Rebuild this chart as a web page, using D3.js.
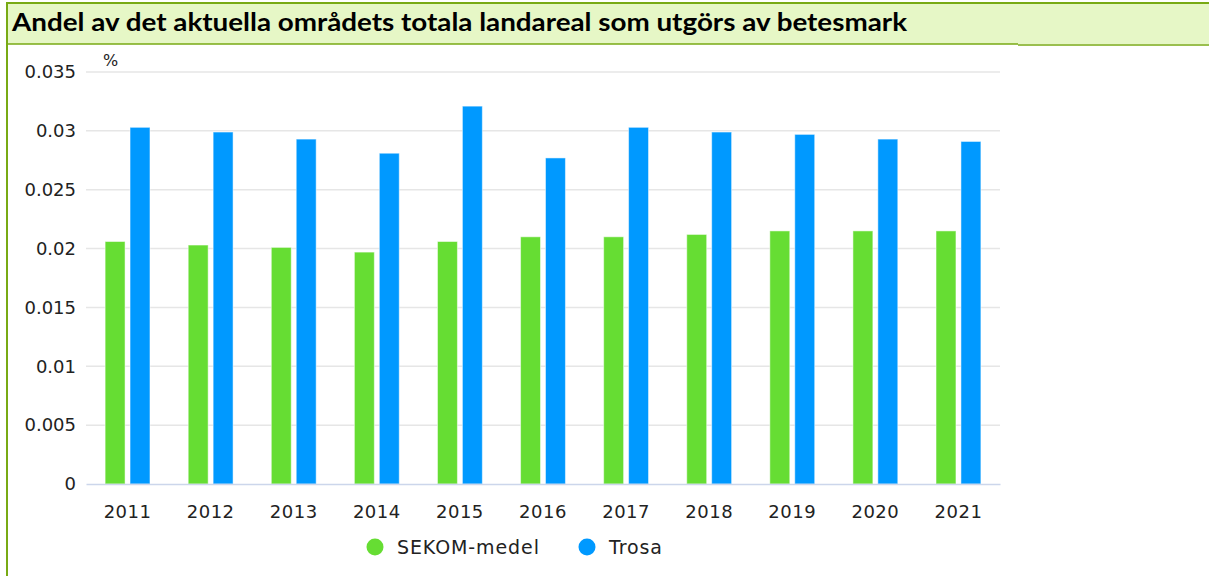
<!DOCTYPE html>
<html>
<head>
<meta charset="utf-8">
<script src="https://cdn.jsdelivr.net/npm/d3@7"></script>
<style>
	body { margin: 0; background: #fff; }
	svg { display: block; }
</style>
</head>
<body>
<svg width="1209" height="576"></svg>
<script>
const title = "Andel av det aktuella områdets totala landareal som utgörs av betesmark";
const years = ["2011", "2012", "2013", "2014", "2015", "2016", "2017", "2018", "2019", "2020", "2021"];
const seriesNames = ["SEKOM-medel", "Trosa"];
const sekomValues = [0.0206, 0.0203, 0.0201, 0.0197, 0.0206, 0.0210, 0.0210, 0.0212, 0.0215, 0.0215, 0.0215];
const trosaValues = [0.0303, 0.0299, 0.0293, 0.0281, 0.0321, 0.0277, 0.0303, 0.0299, 0.0297, 0.0293, 0.0291];
const yTicks = [0, 0.005, 0.01, 0.015, 0.02, 0.025, 0.03, 0.035];
const yTickLabels = ["0", "0.005", "0.01", "0.015", "0.02", "0.025", "0.03", "0.035"];
const unitLabel = "%";

const colors = { "SEKOM-medel": "#66dd33", "Trosa": "#0099ff" };

function draw_chart() {
	let svg = d3.select("svg");

	// title band
	svg.append("rect")
		.attr("x", 7).attr("y", 3).attr("width", 1210).attr("height", 41)
		.attr("fill", "#e6f7c6");
	svg.append("line")
		.attr("x1", 7).attr("x2", 1209).attr("y1", 3).attr("y2", 3)
		.attr("stroke", "#78aa14").attr("stroke-width", 2);
	svg.append("line")
		.attr("x1", 7).attr("x2", 1018).attr("y1", 44).attr("y2", 44)
		.attr("stroke", "#78aa14").attr("stroke-width", 1.5);
	svg.append("line")
		.attr("x1", 1018).attr("x2", 1209).attr("y1", 45).attr("y2", 45)
		.attr("stroke", "#78aa14").attr("stroke-width", 1.5);
	svg.append("line")
		.attr("x1", 7).attr("x2", 7).attr("y1", 2).attr("y2", 576)
		.attr("stroke", "#78aa14").attr("stroke-width", 2);

	svg.append("text")
		.attr("x", 12).attr("y", 31)
		.attr("font-family", "Lato, 'Open Sans', sans-serif")
		.attr("font-weight", "bold")
		.attr("font-size", 24)
		.attr("textLength", 895)
		.attr("lengthAdjust", "spacingAndGlyphs")
		.attr("fill", "#000")
		.text(title);

	let left = 86, right = 1000, top = 72, bottom = 484;

	let x0 = d3.scaleBand().domain(years).range([left, right]).padding(0);
	let x1 = d3.scaleBand().domain(seriesNames)
		.range([0.2 * x0.bandwidth(), 0.8 * x0.bandwidth()])
		.paddingInner(0.2).paddingOuter(0.1);
	let y = d3.scaleLinear().domain([0, 0.035]).range([bottom, top]);

	let g = svg.append("g");

	// gridlines
	g.selectAll(".grid")
		.data(yTicks.slice(1))
		.enter()
		.append("line")
		.attr("class", "grid")
		.attr("x1", left).attr("x2", right)
		.attr("y1", d => y(d)).attr("y2", d => y(d))
		.attr("stroke", "#e6e6e6").attr("stroke-width", 1.5);

	// y axis labels
	let yAxis = d3.axisLeft(y).tickValues(yTicks)
		.tickFormat((d, i) => yTickLabels[i]).tickSize(0).tickPadding(10);
	let ya = g.append("g").attr("transform", `translate(${left},0)`).call(yAxis);
	ya.select(".domain").remove();
	ya.selectAll("text")
		.attr("font-family", "'DejaVu Sans', sans-serif")
		.attr("font-size", 18)
		.attr("fill", "#222");

	svg.append("text")
		.attr("x", 103).attr("y", 66)
		.attr("font-family", "'DejaVu Sans', sans-serif")
		.attr("font-size", 16)
		.attr("fill", "#222")
		.text(unitLabel);

	// bars
	let rows = years.map((yr, i) => ({ year: yr, values: [
		{ name: seriesNames[0], value: sekomValues[i] },
		{ name: seriesNames[1], value: trosaValues[i] }
	] }));

	let groups = g.selectAll(".year")
		.data(rows)
		.enter()
		.append("g")
		.attr("class", "year")
		.attr("transform", d => `translate(${x0(d.year)},0)`);

	groups.selectAll("rect")
		.data(d => d.values)
		.enter()
		.append("rect")
		.attr("x", d => x1(d.name))
		.attr("width", x1.bandwidth())
		.attr("y", d => y(d.value))
		.attr("height", d => bottom - y(d.value))
		.attr("fill", d => colors[d.name])
		.attr("stroke", "rgba(255,255,255,0.5)")
		.attr("stroke-width", 1);

	// x axis
	let xAxis = d3.axisBottom(x0).tickSize(0).tickPadding(21);
	let xa = g.append("g").attr("transform", `translate(0,${bottom})`).call(xAxis);
	xa.select(".domain").attr("stroke", "#ccd6eb").attr("stroke-width", 1.5);
	xa.selectAll("text")
		.attr("font-family", "'DejaVu Sans', sans-serif")
		.attr("font-size", 18)
		.attr("letter-spacing", 0.5)
		.attr("fill", "#222");

	// legend
	let legendX = [375, 587];
	let legend = svg.selectAll(".legend")
		.data(seriesNames)
		.enter()
		.append("g")
		.attr("class", "legend")
		.attr("transform", (d, i) => `translate(${legendX[i]},547)`);
	legend.append("circle")
		.attr("r", 8.5)
		.attr("fill", d => colors[d]);
	legend.append("text")
		.attr("x", 22).attr("y", 6.5)
		.attr("font-family", "'DejaVu Sans', sans-serif")
		.attr("font-size", 19)
		.attr("letter-spacing", 0.9)
		.attr("fill", "#222")
		.text(d => d);
}

draw_chart();
</script>
</body>
</html>
